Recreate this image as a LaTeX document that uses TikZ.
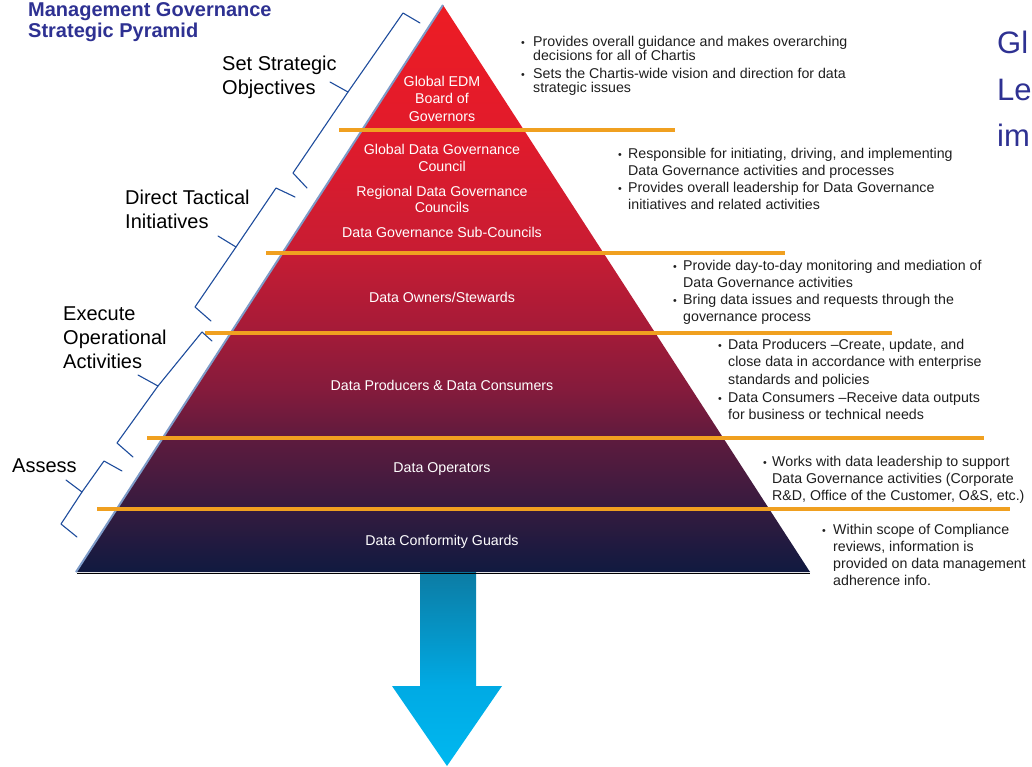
\documentclass[tikz,border=0pt]{standalone}
\usepackage{graphicx}
\usepackage{fontspec}
\setmainfont{Liberation Sans}

% pyramid tiers, from the dark base up to the red apex
\definecolor{pyrA}{RGB}{16,26,64}
\definecolor{pyrB}{RGB}{58,27,63}
\definecolor{pyrC}{RGB}{93,27,62}
\definecolor{pyrD}{RGB}{132,27,60}
\definecolor{pyrE}{RGB}{165,27,56}
\definecolor{pyrF}{RGB}{200,28,51}
\definecolor{pyrG}{RGB}{226,27,43}
\definecolor{pyrH}{RGB}{237,28,36}
% downward arrow
\definecolor{arrA}{RGB}{12,124,164}
\definecolor{arrB}{RGB}{0,170,228}
\definecolor{arrC}{RGB}{0,184,240}
% lines and text
\definecolor{sepgold}{RGB}{240,160,32}
\definecolor{bracketblue}{RGB}{30,76,156}
\definecolor{edgeblue}{RGB}{125,155,200}
\definecolor{baseline}{RGB}{80,100,140}
\definecolor{titleblue}{RGB}{46,49,146}
\definecolor{notegray}{RGB}{30,30,30}

\pgfdeclareverticalshading{pyrshade}{100bp}{color(0bp)=(pyrA); color(25bp)=(pyrA);
  color(31.35bp)=(pyrB); color(36.64bp)=(pyrC); color(41.05bp)=(pyrD);
  color(46.34bp)=(pyrE); color(53.4bp)=(pyrF); color(63.98bp)=(pyrG);
  color(75bp)=(pyrH); color(100bp)=(pyrH)}
\pgfdeclareverticalshading{arrshade}{100bp}{color(0bp)=(arrC); color(25bp)=(arrC);
  color(45.6bp)=(arrB); color(75bp)=(arrA); color(100bp)=(arrA)}

% small bullet in a fixed-width box, and the matching hanging indent
\newcommand\bl[1]{\makebox[#1][l]{\raisebox{0.4pt}{\scalebox{0.75}{•}}}}
\newcommand\hg[1]{\hspace*{#1}}

\begin{document}
\begin{tikzpicture}[x=1pt,y=-1pt,
  stage/.style={font=\fontsize{14.2}{17}\selectfont, text=white, align=center,
    inner sep=0pt, anchor=north, execute at begin node=\rule{0pt}{11pt}},
  note/.style={font=\fontsize{14.2}{17}\selectfont, text=notegray, align=left,
    inner sep=0pt, anchor=north west, execute at begin node=\rule{0pt}{11pt}},
  tier/.style={font=\fontsize{20}{24}\selectfont, text=black, align=left,
    inner sep=0pt, anchor=north west, execute at begin node=\rule{0pt}{16pt}},
  sep/.style={draw=sepgold, line width=4pt},
  bracket/.style={draw=bracketblue, line width=1.1pt, line join=round, line cap=round},
]
\useasboundingbox (0,0) rectangle (1032,766);

% downward arrow under the pyramid
\shade[shading=arrshade] (420,572) -- (476,572) -- (476,686) -- (502,686)
  -- (447,766) -- (392,686) -- (420,686) -- cycle;

% pyramid body
\shade[shading=pyrshade] (443,5) -- (810,572) -- (76,572) -- cycle;
\draw[edgeblue, line width=2pt] (76,572) -- (443,5);
\draw[baseline, line width=1.5pt] (77,573.5) -- (810,573.5);

% tier separators
\draw[sep] (339,130) -- (675,130);
\draw[sep] (266,253) -- (785,253);
\draw[sep] (205,333) -- (892,333);
\draw[sep] (147,438) -- (984,438);
\draw[sep] (97,509) -- (1010,509);

% brackets along the left side
\draw[bracket] (420,23) -- (403,13) -- (348,92) -- (293,173) -- (307,188);
\draw[bracket] (348,92) -- (330,82);
\draw[bracket] (295,197) -- (276,188) -- (236,247) -- (195,307) -- (211,321);
\draw[bracket] (236,247) -- (218,236);
\draw[bracket] (212,341) -- (202,332) -- (158,386) -- (117,443) -- (133,457);
\draw[bracket] (158,386) -- (138,375);
\draw[bracket] (122,471) -- (104,461) -- (82,492) -- (61,524) -- (77,537);
\draw[bracket] (82,492) -- (66,480);

% title and cut-off heading
\node[font=\fontsize{20}{21}\selectfont\bfseries, text=titleblue, align=left,
  inner sep=0pt, anchor=north west, execute at begin node=\rule{0pt}{16pt}]
  (title) at (28,2) {Management Governance\\Strategic Pyramid};
\node[font=\fontsize{31}{46.5}\selectfont, text=titleblue, align=left,
  inner sep=0pt, anchor=north west, execute at begin node=\rule{0pt}{24pt}]
  (heading) at (997,31) {Gl\\Le\\im};

% tier labels on the left
\node[tier, font=\fontsize{20}{23.5}\selectfont] (setobj) at (222,56) {Set Strategic\\Objectives};
\node[tier] (direct) at (125,190) {Direct Tactical\\Initiatives};
\node[tier] (execute) at (63,307) {Execute\\Operational\\Activities};
\node[tier] (assess) at (12,456) {Assess};

% labels inside the pyramid
\node[stage, font=\fontsize{14.2}{17.5}\selectfont] (board) at (442,76) {Global EDM\\Board of\\Governors};
\node[stage] (gdgc) at (442,144) {Global Data Governance\\Council};
\node[stage, font=\fontsize{14.2}{16.5}\selectfont] (rdgc) at (442,186) {Regional Data Governance\\Councils};
\node[stage] (sub) at (442,226) {Data Governance Sub-Councils};
\node[stage] (owners) at (442,291) {Data Owners/Stewards};
\node[stage] (prod) at (442,379) {Data Producers \& Data Consumers};
\node[stage] (oper) at (442,461) {Data Operators};
\node[stage] (guards) at (442,534) {Data Conformity Guards};

% notes on the right
\node[note, font=\fontsize{14.2}{14}\selectfont] (n1a) at (521,36)
  {\bl{12pt}Provides overall guidance and makes overarching\\\hg{12pt}decisions for all of Chartis};
\node[note, font=\fontsize{14.2}{14}\selectfont] (n1b) at (521,68)
  {\bl{12pt}Sets the Chartis-wide vision and direction for data\\\hg{12pt}strategic issues};

\node[note] (n2a) at (618,148)
  {\bl{10pt}Responsible for initiating, driving, and implementing\\\hg{10pt}Data Governance activities and processes};
\node[note] (n2b) at (618,182)
  {\bl{10pt}Provides overall leadership for Data Governance\\\hg{10pt}initiatives and related activities};

\node[note] (n3a) at (673,260)
  {\bl{10pt}Provide day-to-day monitoring and mediation of\\\hg{10pt}Data Governance activities};
\node[note] (n3b) at (673,294)
  {\bl{10pt}Bring data issues and requests through the\\\hg{10pt}governance process};

\node[note, font=\fontsize{14.2}{17.5}\selectfont] (n4a) at (718,339)
  {\bl{10pt}Data Producers –Create, update, and\\\hg{10pt}close data in accordance with enterprise\\\hg{10pt}standards and policies};
\node[note, font=\fontsize{14.2}{17.5}\selectfont] (n4b) at (718,392)
  {\bl{10pt}Data Consumers –Receive data outputs\\\hg{10pt}for business or technical needs};

\node[note] (n5) at (763,456)
  {\bl{9pt}Works with data leadership to support\\\hg{9pt}Data Governance activities (Corporate\\\hg{9pt}R\&D, Office of the Customer, O\&S, etc.)};

\node[note] (n6) at (822,524)
  {\bl{11pt}Within scope of Compliance\\\hg{11pt}reviews, information is\\\hg{11pt}provided on data management\\\hg{11pt}adherence info.};
\end{tikzpicture}
\end{document}
